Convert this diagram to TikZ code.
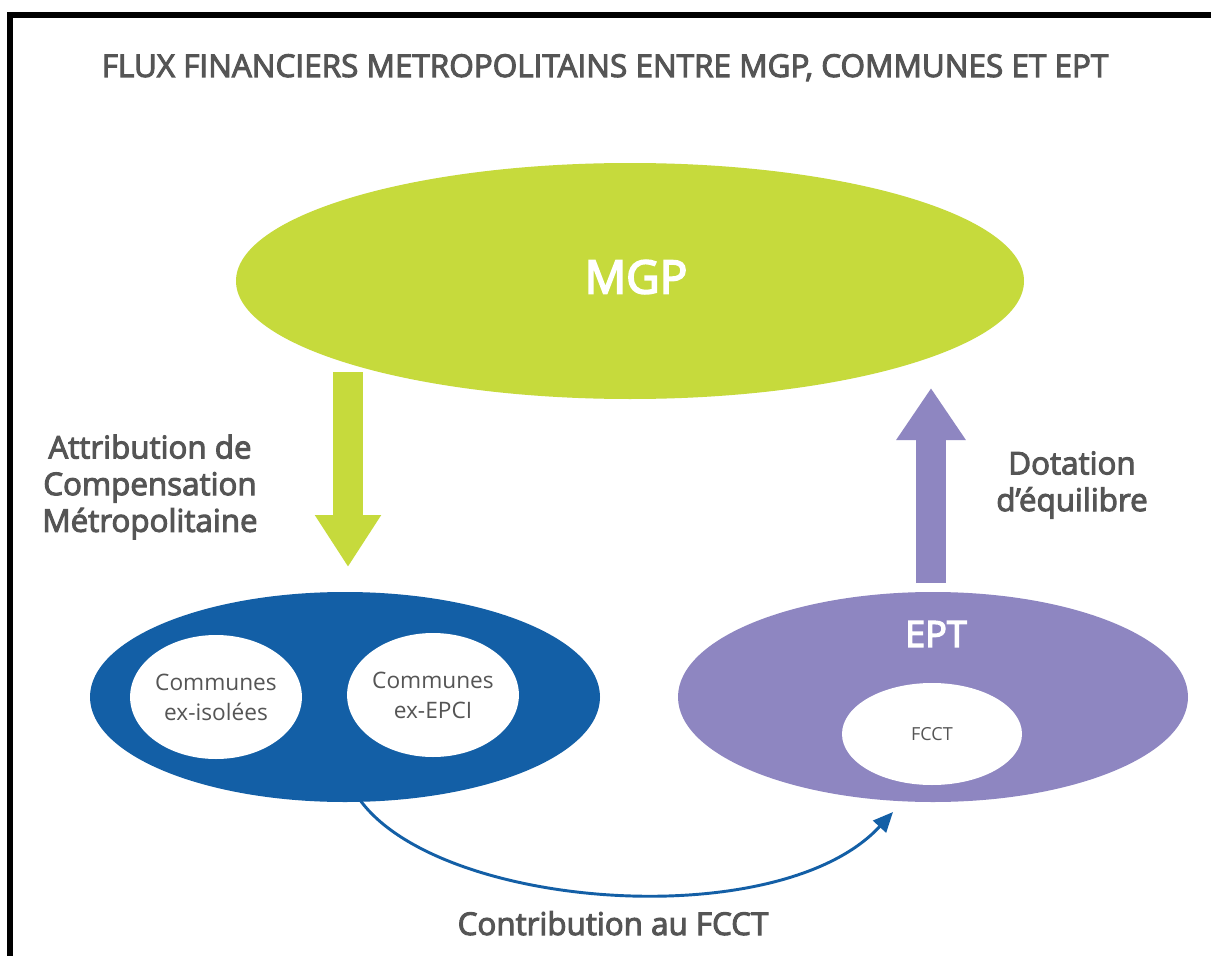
\documentclass[tikz,border=0pt]{standalone}
\usepackage{fontspec}
\setmainfont{Open Sans}
\newfontfamily\semib[FakeBold=3.2]{Open Sans}
\newfontfamily\medium[FakeBold=3.8]{Open Sans}
\usetikzlibrary{shapes.geometric,arrows.meta}
\definecolor{lime}{HTML}{C6DA3C}
\definecolor{dblue}{HTML}{135FA6}
\definecolor{lilac}{HTML}{8E86C1}
\definecolor{txtgray}{HTML}{555555}
\tikzset{
  blob/.style={ellipse, inner sep=0pt},
  inner/.style={ellipse, fill=white, inner sep=0pt, text=txtgray, align=center, font=\fontsize{17}{22.5}\selectfont},
  lbl/.style={text=txtgray, align=center, inner sep=0pt, font=\semib\fontsize{23.5}{27.5}\selectfont}
}
\begin{document}
\begin{tikzpicture}[x=0.75pt,y=-0.75pt]
\fill[white] (0,0) rectangle (1211,956);
\useasboundingbox (0,0) rectangle (1211,956);
% frame
\fill[black] (7,12) rectangle (1211,18);
\fill[black] (7,12) rectangle (13,956);
% title
\node (title) at (605,77) [anchor=base, inner sep=0pt, text=txtgray, font=\semib\fontsize{23.6}{26}\selectfont] {FLUX FINANCIERS METROPOLITAINS ENTRE MGP, COMMUNES ET EPT};
% main ellipses
\node (mgp) at (630,281) [blob, fill=lime, minimum width=591pt, minimum height=177pt] {};
\node (mgplbl) at (636,277) [inner sep=0pt, text=white, font=\medium\fontsize{34.5}{40}\selectfont] {MGP};
\node (com) at (345,697) [blob, fill=dblue, minimum width=382.5pt, minimum height=157.5pt] {};
\node (ept) at (933,697) [blob, fill=lilac, minimum width=382.5pt, minimum height=157.5pt] {};
\node (eptlbl) at (936,634) [inner sep=0pt, text=white, font=\medium\fontsize{27}{30}\selectfont] {EPT};
% inner ellipses
\node (iso) at (216,697) [inner, minimum width=126pt, minimum height=93pt] {Communes\\ex-isolées};
\node (epci) at (433,695) [inner, minimum width=124.5pt, minimum height=93pt] {Communes\\ex-EPCI};
\node (fcct) at (932,734) [inner, minimum width=135pt, minimum height=76.5pt, font=\fontsize{13.5}{16}\selectfont] {FCCT};
% fat arrows
\coordinate (gs) at (348,372);
\coordinate (ge) at (348,567);
\draw[lime, line width=22pt, -{Triangle[width=47pt,length=39pt]}] (gs) -- (ge);
\coordinate (ps) at (931,583);
\coordinate (pe) at (931,388);
\draw[lilac, line width=22.5pt, -{Triangle[width=49.5pt,length=39pt]}] (ps) -- (pe);
% labels
\node (attr) at (150,487) [lbl] {Attribution de\\Compensation\\Métropolitaine};
\node (dot) at (1072,485) [lbl] {Dotation\\d’équilibre};
% curved connector
\coordinate (cs) at (360,800);
\coordinate (ce) at (893,812);
\draw[dblue, line width=2.2pt, -{Triangle[width=13pt,length=15pt]}] (cs) .. controls (440,910) and (780,935) .. (ce);
\node (contrib) at (613,935) [lbl, anchor=base] {Contribution au FCCT};
\end{tikzpicture}
\end{document}
